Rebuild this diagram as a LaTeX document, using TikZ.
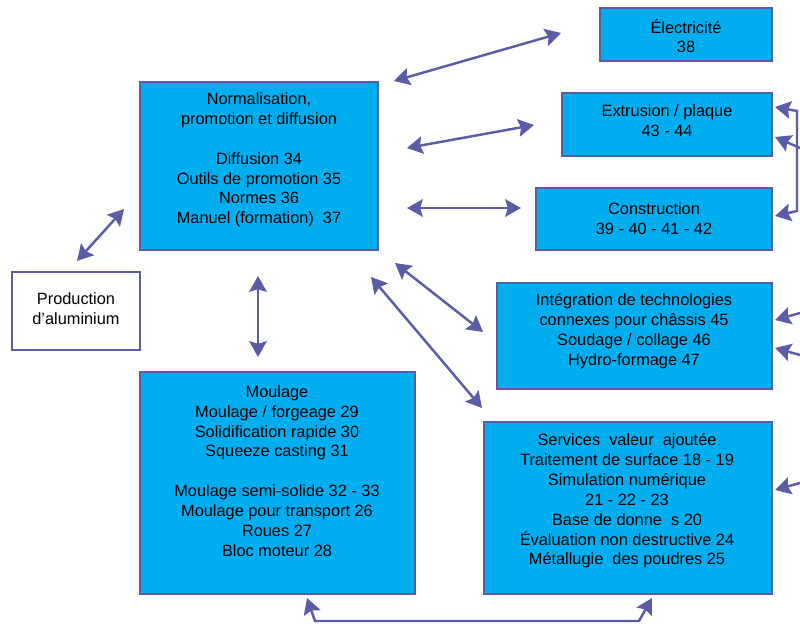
\documentclass[tikz,border=0pt]{standalone}
\usepackage{fontspec}
\setmainfont{Liberation Sans}
\usetikzlibrary{arrows.meta,fit}
\definecolor{boxblue}{HTML}{00AEEF}
\definecolor{edgeblue}{HTML}{5B5BA6}

\begin{document}
\begin{tikzpicture}[x=0.02cm,y=-0.02cm,
        >={Stealth[length=9pt,width=10pt,inset=1.5pt]},
        box/.style={draw=edgeblue,line width=1.1pt,fill=boxblue,inner sep=0pt},
        plainbox/.style={box,fill=white},
        txt/.style={align=center,inner sep=0pt,font=\fontsize{9.3}{11.3}\selectfont},
        link/.style={draw=edgeblue,line width=1.4pt,<->},
        oneway/.style={draw=edgeblue,line width=1.4pt,->}]
    \useasboundingbox (0,0) rectangle (800,625);

    % boxes
    \node[box,fit={(600,8) (772,61)}] (elec) {};
    \node[box,fit={(140,82) (378,250)}] (norm) {};
    \node[box,fit={(562,93) (772,156)}] (extr) {};
    \node[box,fit={(536,188) (772,250)}] (cons) {};
    \node[plainbox,fit={(12,272) (140,350)}] (prod) {};
    \node[box,fit={(497,283) (772,389)}] (integ) {};
    \node[box,fit={(140,372) (415,594)}] (moul) {};
    \node[box,fit={(484,422) (772,594)}] (serv) {};

    % texts
    \node[txt] (elec-t) at (686,36) {Électricité\\38};
    \node[txt] (norm-t) at (259,160) {Normalisation,\\promotion et diffusion\\[11.3pt]
        Diffusion 34\\Outils de promotion 35\\Normes 36\\Manuel (formation)~ 37};
    \node[txt] (extr-t) at (667,121) {Extrusion / plaque\\43 - 44};
    \node[txt] (cons-t) at (654,219) {Construction\\39 - 40 - 41 - 42};
    \node[txt] (prod-t) at (76,309) {Production\\d’aluminium};
    \node[txt] (integ-t) at (634,331) {Intégration de technologies\\connexes pour châssis 45\\
        Soudage / collage 46\\Hydro-formage 47};
    \node[txt] (moul-t) at (277,471) {Moulage\\Moulage / forgeage 29\\Solidification rapide 30\\
        Squeeze casting 31\\[11.3pt]Moulage semi-solide 32 - 33\\Moulage pour transport 26\\
        Roues 27\\Bloc moteur 28};
    \node[txt] (serv-t) at (627,501) {Services~ valeur~ ajoutée\\Traitement de surface 18 - 19\\
        Simulation numérique\\21 - 22 - 23\\Base de donne~~s 20\\
        Évaluation non destructive 24\\Métallugie~ des poudres 25};

    % connector ends
    \coordinate (n1) at (394,81);  \coordinate (e1) at (561,33);
    \coordinate (n2) at (407,148); \coordinate (x1) at (534,125);
    \coordinate (n3) at (407,208); \coordinate (c1) at (521,208);
    \coordinate (p1) at (77,261);  \coordinate (n4) at (124,209);
    \coordinate (n5) at (258,276); \coordinate (m1) at (258,357);
    \coordinate (n6) at (395,263); \coordinate (i1) at (483,332);
    \coordinate (n7) at (371,277); \coordinate (s1) at (482,408);
    \coordinate (m2) at (307,598); \coordinate (s2) at (652,598);
    \coordinate (x2) at (775,107); \coordinate (c2) at (775,216);
    \coordinate (x3) at (775,137); \coordinate (i2) at (775,320);
    \coordinate (i3) at (775,348); \coordinate (s3) at (775,490);

    \draw[link] (n1) -- (e1);
    \draw[link] (n2) -- (x1);
    \draw[link] (n3) -- (c1);
    \draw[link] (p1) -- (n4);
    \draw[link] (n5) -- (m1);
    \draw[link] (n6) -- (i1);
    \draw[link] (n7) -- (s1);
    \draw[link] (m2) -- (315,621) -- (639,621) -- (s2);
    \draw[link] (x2) -- (797,111) -- (797,211) -- (c2);
    \draw[oneway] (800,148) -- (x3);
    \draw[oneway] (800,313) -- (i2);
    \draw[oneway] (800,355) -- (i3);
    \draw[oneway] (800,483) -- (s3);
\end{tikzpicture}
\end{document}
